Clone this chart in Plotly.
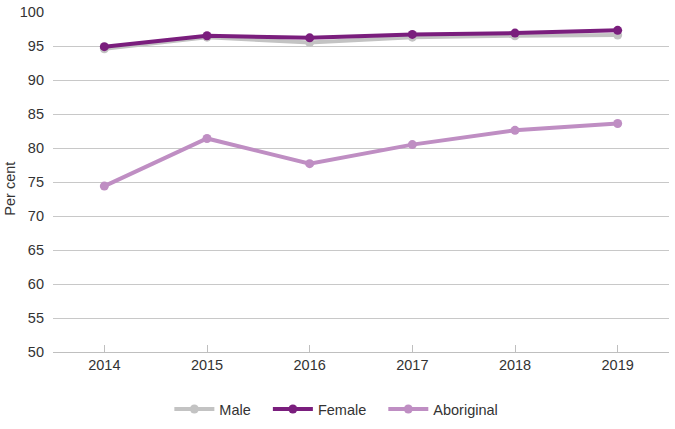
import plotly.graph_objects as go

years = ["2014", "2015", "2016", "2017", "2018", "2019"]
male = [94.6, 96.3, 95.5, 96.3, 96.5, 96.6]
female = [94.9, 96.5, 96.2, 96.7, 96.9, 97.3]
aboriginal = [74.4, 81.4, 77.7, 80.5, 82.6, 83.6]
y_ticks = [50, 55, 60, 65, 70, 75, 80, 85, 90, 95, 100]

pad = "\u00a0" * 3
series = [
    ("Male" + pad, male, "#c3c3c3"),
    ("Female" + pad, female, "#7a1e7d"),
    ("Aboriginal", aboriginal, "#bf8ec3"),
]

fig = go.Figure()
for name, vals, col in series:
    fig.add_trace(go.Scatter(
        x=years, y=vals, name=name, mode="lines+markers",
        line=dict(color=col, width=4),
        marker=dict(color=col, size=9),
    ))

fs = 14.5
fig.update_layout(
    width=675, height=429,
    margin=dict(l=53, r=6, t=12, b=77, autoexpand=False),
    paper_bgcolor="white", plot_bgcolor="white",
    font=dict(family="Liberation Sans, Arial, sans-serif", size=fs, color="#333333"),
    showlegend=True,
    legend=dict(orientation="h", x=0.46, xanchor="center", y=-0.168, yanchor="middle",
                font=dict(size=fs, color="#333333"), itemwidth=40),
    xaxis=dict(type="category", range=[-0.5, 5.5], showgrid=False, automargin=False,
               showline=True, linecolor="#bfbfbf", linewidth=1,
               ticks="inside", ticklen=7, tickcolor="#bfbfbf",
               tickfont=dict(size=fs), zeroline=False),
    yaxis=dict(range=[50, 100], tickvals=y_ticks, showgrid=True, automargin=False,
               gridcolor="#c8c8c8", gridwidth=1, showline=False, zeroline=False,
               tickfont=dict(size=fs), ticks="", ticklabelstandoff=8),
    annotations=[dict(text="Per cent", xref="paper", yref="paper", x=-0.07, y=0.48,
                      textangle=-90, showarrow=False, xanchor="center", yanchor="middle",
                      font=dict(size=fs, color="#333333"))],
)

fig.write_html("out.html", config={"displayModeBar": False},
               post_script="document.body.style.margin='0';")
